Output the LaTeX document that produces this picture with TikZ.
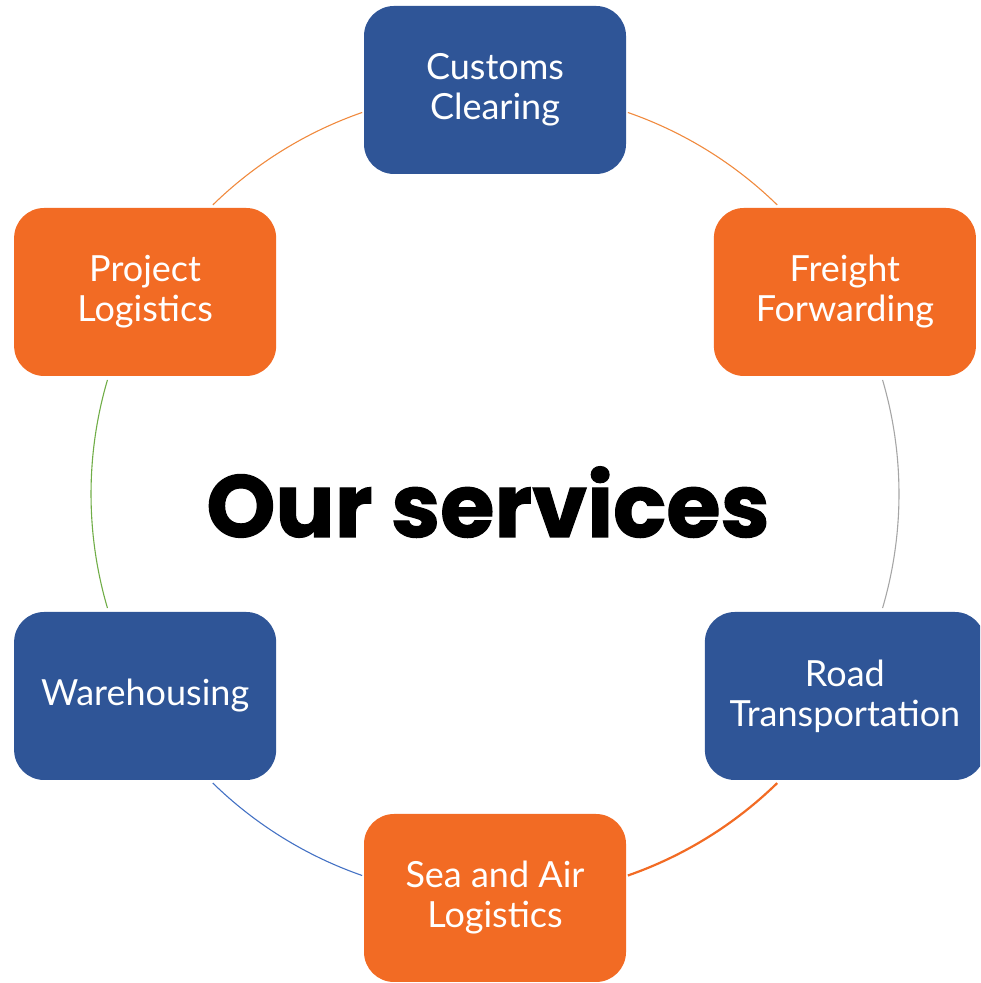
\documentclass[tikz,border=0pt]{standalone}
\usepackage{fontspec}
\setmainfont{Lato}
\newfontfamily\titlefont[BoldFeatures={FakeBold=1.3}]{Poppins}
\definecolor{boxblue}{HTML}{2F5597}
\definecolor{boxorange}{HTML}{F26B24}
\definecolor{lineorange}{HTML}{F08A3E}
\definecolor{lineblue}{HTML}{4472C4}
\definecolor{linegreen}{HTML}{70AD47}
\definecolor{linegray}{HTML}{A6A6A6}
\tikzset{
  servicebox/.style={rounded corners=15pt, minimum width=131pt, minimum height=84pt,
    align=center, text=white, font=\fontsize{18}{20}\selectfont, inner sep=0pt},
  bluebox/.style={servicebox, fill=boxblue},
  orangebox/.style={servicebox, fill=boxorange},
  ring/.style={line width=0.55pt}
}
\begin{document}
\begin{tikzpicture}[x=0.5pt,y=0.5pt,yscale=1,xscale=1]
\useasboundingbox (0,0) rectangle (980,983);
\begin{scope}
\clip (0,0) rectangle (980,983);
\coordinate (c) at (495,489);
\begin{scope}[shift={(c)}]
%ring
\draw [ring, lineorange] (70.8:404) arc(70.8:45.7:404);
\draw [ring, linegray] (16.4:404) arc(16.4:-16.4:404);
\draw [ring, boxorange, line width=1.1pt] (-45.7:404) arc(-45.7:-70.8:404);
\draw [ring, lineblue] (-109.2:404) arc(-109.2:-134.3:404);
\draw [ring, linegreen] (-163.6:404) arc(-163.6:-196.4:404);
\draw [ring, lineorange] (134.3:404) arc(134.3:109.2:404);
%boxes
\node [bluebox] (customs) at (90:404) {Customs\\Clearing};
\node [orangebox] (freight) at (30:404) {Freight\\Forwarding};
\node [bluebox, minimum width=140pt] (road) at (-30:404) {Road\\Transportation};
\node [orangebox] (seaair) at (-90:404) {Sea and Air\\Logistics};
\node [bluebox] (warehouse) at (-150:404) {Warehousing};
\node [orangebox] (project) at (150:404) {Project\\Logistics};
\end{scope}
\end{scope}
%Text
\node [anchor=base, inner sep=0pt, font=\titlefont\bfseries\fontsize{44}{50}\selectfont] (title) at (488,446) {Our services};
\end{tikzpicture}
\end{document}
